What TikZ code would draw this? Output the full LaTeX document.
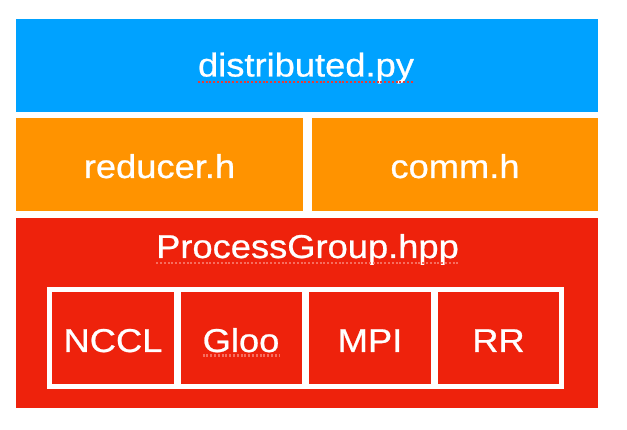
\documentclass[tikz,border=0pt]{standalone}
\usepackage{fontspec}
\setmainfont[FakeStretch=1.1, FakeBold=0.7]{Liberation Sans}
\definecolor{kblue}{RGB}{0,162,255}
\definecolor{korange}{RGB}{255,147,0}
\definecolor{kred}{RGB}{238,34,12}
\definecolor{squiggle}{RGB}{232,60,55}
\definecolor{squigglelight}{RGB}{246,110,95}
\tikzset{
  layer/.style={draw=none, inner sep=0pt, outer sep=0pt},
  cell/.style={layer, fill=kred, minimum width=121.5pt, minimum height=92pt},
  lbl/.style={inner sep=0pt, outer sep=0pt, anchor=base, text=white, font=\fontsize{33}{36}\selectfont},
  spell/.style={line width=2.2pt, dash pattern=on 2pt off 1.8pt}
}
\begin{document}
\begin{tikzpicture}[x=1pt, y=-1pt]
  \useasboundingbox[fill=white] (0,0) rectangle (627,430);

  % top layer
  \node[layer, fill=kblue, minimum width=582pt, minimum height=93pt] (py) at (307,65.5) {};
  \node[lbl] (pyt) at (306,76.5) {distributed.py};

  % middle layer
  \node[layer, fill=korange, minimum width=287pt, minimum height=93pt] (red) at (159.5,164.5) {};
  \node[layer, fill=korange, minimum width=286pt, minimum height=93pt] (comm) at (455,164.5) {};
  \node[lbl] (redt) at (159.5,178) {reducer.h};
  \node[lbl] (commt) at (455,178) {comm.h};

  % process group layer
  \node[layer, fill=kred, minimum width=582pt, minimum height=190pt] (pg) at (307,313) {};
  \node[lbl] (pgt) at (307.5,258) {ProcessGroup.hpp};

  % backends
  \node[layer, fill=white, minimum width=517pt, minimum height=102pt] (frame) at (305.5,338) {};
  \node[cell] (nccl) at (112.75,338) {};
  \node[cell] (gloo) at (241.25,338) {};
  \node[cell] (mpi)  at (369.75,338) {};
  \node[cell] (rr)   at (498.25,338) {};
  \node[lbl] (ncclt) at (113,352) {NCCL};
  \node[lbl] (gloot) at (241,352) {Gloo};
  \node[lbl] (mpit)  at (370,352) {MPI};
  \node[lbl] (rrt)   at (498.5,352) {RR};

  % spell-check marks under words
  \draw[spell, squiggle] ([yshift=-5.5pt]pyt.base west) -- ([yshift=-5.5pt]pyt.base east);
  \draw[spell, squigglelight] ([yshift=-5pt]pgt.base west) -- ([yshift=-5pt]pgt.base east);
  \draw[spell, squigglelight] ([yshift=-3.5pt]gloot.base west) -- ([yshift=-3.5pt]gloot.base east);
\end{tikzpicture}
\end{document}
